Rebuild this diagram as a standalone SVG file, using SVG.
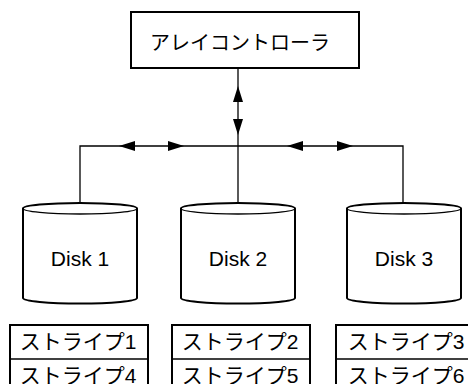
<svg xmlns="http://www.w3.org/2000/svg" width="468" height="384" viewBox="0 0 468 384">
<defs>
<style>
.t{font-family:"Liberation Sans","Noto Sans CJK JP",sans-serif;fill:#000;text-anchor:middle}
.box{fill:#fff;stroke:#000;stroke-width:2}
.ln{fill:none;stroke:#000;stroke-width:1.3}
.cyl{fill:#fff;stroke:#000;stroke-width:2}
.ah{fill:#000}
</style>
</defs>
<rect width="468" height="384" fill="#fff"/>
<g id="connectors">
<path class="ln" d="M238,68 V205"/>
<path class="ln" d="M80,203 V146 H403 V203"/>
<polygon class="ah" points="238,86 233,102 243,102"/>
<polygon class="ah" points="238,135 233,119 243,119"/>
<polygon class="ah" points="119,146 135,141 135,151"/>
<polygon class="ah" points="184,146 168,141 168,151"/>
<polygon class="ah" points="287,146 303,141 303,151"/>
<polygon class="ah" points="353,146 337,141 337,151"/>
</g>
<g id="controller">
<rect class="box" x="131" y="12" width="228" height="56"/>
<text class="t" x="240" y="50" font-size="20">アレイコントローラ</text>
</g>
<g id="disk1">
<path class="cyl" d="M23,208.5 V298 A57,5.5 0 0 0 137,298 V208.5 A57,5.5 0 0 0 23,208.5 Z"/>
<path class="ln" d="M23,208.5 A57,5.5 0 0 0 137,208.5"/>
<text class="t" x="80" y="266" font-size="21">Disk 1</text>
</g>
<g id="disk2">
<path class="cyl" d="M181,208.5 V298 A57,5.5 0 0 0 295,298 V208.5 A57,5.5 0 0 0 181,208.5 Z"/>
<path class="ln" d="M181,208.5 A57,5.5 0 0 0 295,208.5"/>
<text class="t" x="238" y="266" font-size="21">Disk 2</text>
</g>
<g id="disk3">
<path class="cyl" d="M347,208.5 V298 A57,5.5 0 0 0 461,298 V208.5 A57,5.5 0 0 0 347,208.5 Z"/>
<path class="ln" d="M347,208.5 A57,5.5 0 0 0 461,208.5"/>
<text class="t" x="404" y="266" font-size="21">Disk 3</text>
</g>
<g id="stripes1">
<rect class="box" x="10" y="325" width="138" height="70"/>
<path class="ln" d="M10,359 H148"/>
<text class="t" x="78" y="349" font-size="21">ストライプ1</text>
<text class="t" x="78" y="383" font-size="21">ストライプ4</text>
</g>
<g id="stripes2">
<rect class="box" x="172" y="325" width="138" height="70"/>
<path class="ln" d="M172,359 H310"/>
<text class="t" x="240" y="349" font-size="21">ストライプ2</text>
<text class="t" x="240" y="383" font-size="21">ストライプ5</text>
</g>
<g id="stripes3">
<rect class="box" x="336" y="325" width="138" height="70"/>
<path class="ln" d="M336,359 H474"/>
<text class="t" x="406" y="349" font-size="21">ストライプ3</text>
<text class="t" x="406" y="383" font-size="21">ストライプ6</text>
</g>
</svg>
